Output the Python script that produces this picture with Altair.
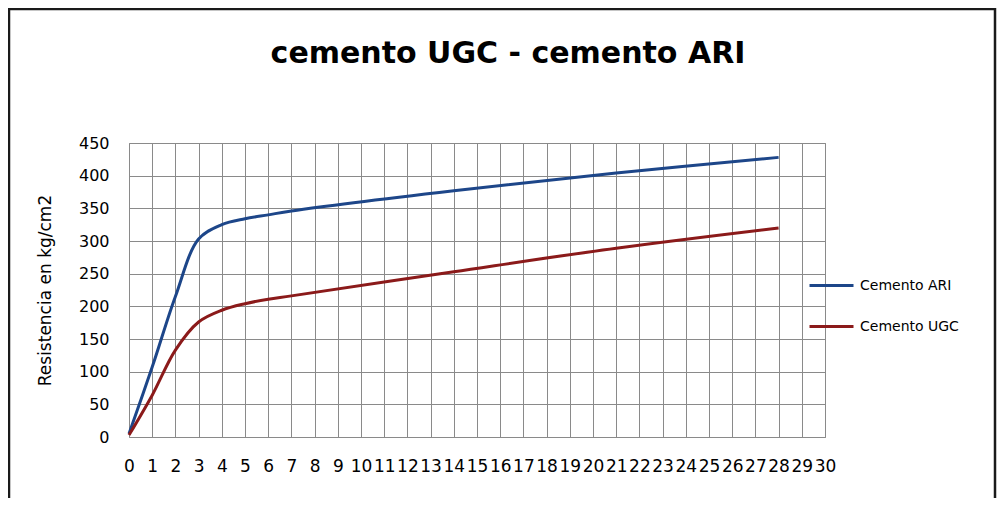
import altair as alt
import pandas as pd

# Values
dias = [0, 1, 2, 3, 4, 5, 6, 7, 14, 21, 28]
cemento_ari = [5, 107, 215, 303, 325, 334, 340, 346, 377, 404, 428]
cemento_ugc = [3, 64, 133, 176, 194, 204, 211, 216, 253, 289, 320]
series = ["Cemento ARI", "Cemento UGC"]
colores = ["#1d4689", "#8b1a1a"]
x_ticks = list(range(0, 31))
y_ticks = list(range(0, 451, 50))

df = pd.DataFrame({
    "dia": dias + dias,
    "valor": cemento_ari + cemento_ugc,
    "serie": [series[0]] * len(dias) + [series[1]] * len(dias),
})

FONT = "DejaVu Sans"

lines = alt.Chart(df).mark_line(interpolate="catmull-rom", strokeWidth=3).encode(
    x=alt.X(
        "dia:Q",
        scale=alt.Scale(domain=[0, 30], nice=False, zero=False),
        axis=alt.Axis(
            values=x_ticks, title=None, grid=True, ticks=False, tickSize=0,
            domain=False, labelOverlap=False, labelFlush=False,
            labelPadding=21, format="d", labelAngle=0, labelFontSize=17,
        ),
    ),
    y=alt.Y(
        "valor:Q",
        scale=alt.Scale(domain=[0, 450], nice=False),
        axis=alt.Axis(
            values=y_ticks, title="Resistencia en kg/cm2", grid=True,
            ticks=False, tickSize=0, domain=False, labelPadding=20,
            titleAngle=270, titleX=-84, titleY=147, titleAlign="center",
            titleBaseline="middle", titleFontSize=17, labelFontSize=16,
        ),
    ),
    color=alt.Color(
        "serie:N",
        scale=alt.Scale(domain=series, range=colores),
        legend=alt.Legend(
            title=None, orient="none", legendX=679, legendY=119,
            symbolType="stroke", symbolSize=1936, symbolStrokeWidth=3,
            labelFontSize=14, labelFont=FONT, labelColor="#000000",
            padding=0, rowPadding=10, labelOffset=5,
        ),
    ),
)

frame = alt.Chart(pd.DataFrame({"k": [0]})).mark_rect(
    filled=False, stroke="#1a1a1a", strokeWidth=2.5
).encode(
    x=alt.value(-120), x2=alt.value(866), y=alt.value(-134), y2=alt.value(420)
)

chart = alt.layer(frame, lines).properties(
    width=696,
    height=294,
    padding={"left": 121, "top": 135, "right": 173, "bottom": 61},
    autosize=alt.AutoSizeParams(type="none"),
    background="white",
    title=alt.TitleParams(
        "cemento UGC - cemento ARI", font=FONT, fontSize=30,
        fontWeight="bold", color="#000000", anchor="middle", dx=31,
        frame="group", offset=0, dy=85, baseline="alphabetic",
    ),
).configure_view(
    stroke="#8a8a8a", strokeWidth=1
).configure_axis(
    gridColor="#8a8a8a", gridWidth=1, gridOpacity=1,
    labelFont=FONT, labelColor="#000000",
    titleFont=FONT, titleColor="#000000",
    titleFontWeight="normal",
)

chart.save("out.html", embed_options={"renderer": "svg", "actions": False})
